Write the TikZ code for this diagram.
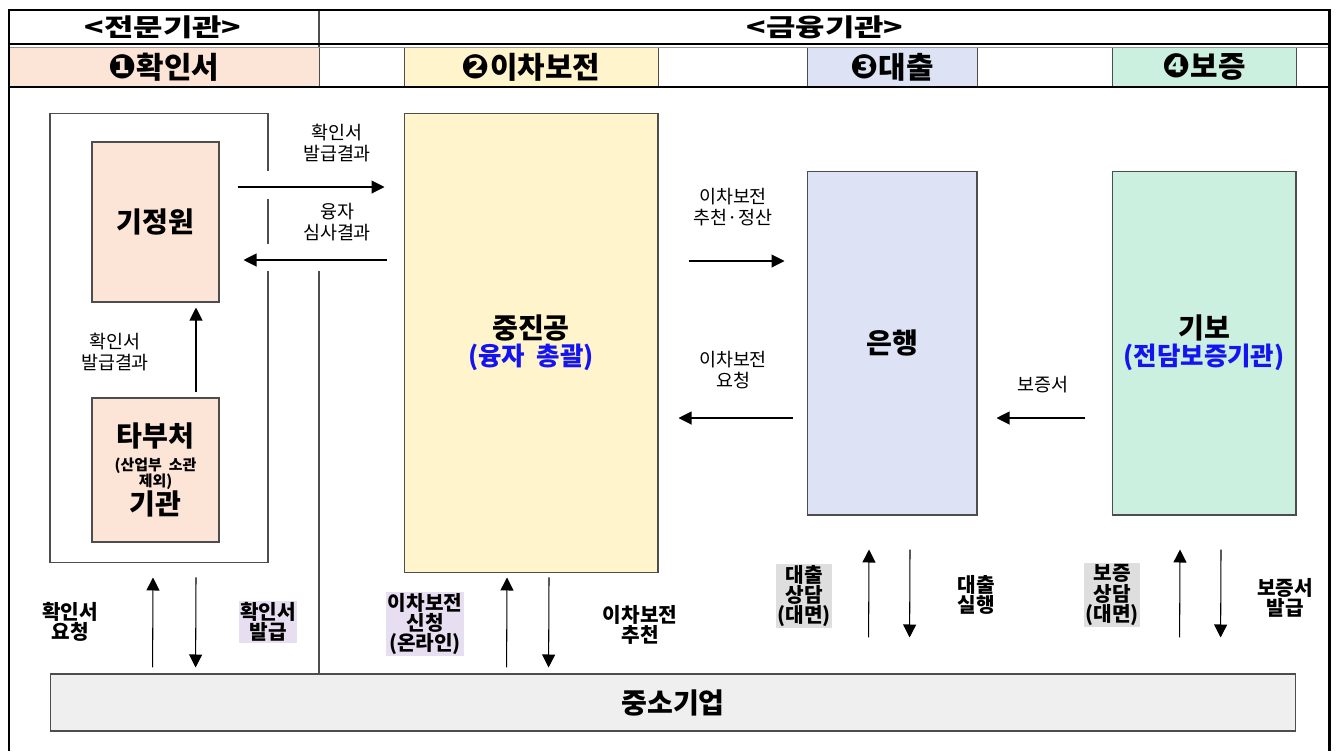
\documentclass[tikz,border=0pt]{standalone}
\usepackage{fontspec}
\setmainfont{Noto Sans CJK KR}
\newfontfamily\headfont{Noto Sans CJK KR}[FakeStretch=1.3]
\newfontfamily\dingfont{DejaVu Sans}
\usetikzlibrary{calc,arrows.meta}
\definecolor{peach}{HTML}{FCE4D6}
\definecolor{cream}{HTML}{FFF4CB}
\definecolor{paleblue}{HTML}{DDE3F5}
\definecolor{palegreen}{HTML}{CCF0E0}
\definecolor{smegray}{HTML}{EFEFEF}
\definecolor{lilac}{HTML}{E8DEF2}
\definecolor{hlgray}{HTML}{DEDEDE}
\definecolor{edge}{HTML}{4D4D4D}
\definecolor{subblue}{HTML}{1414F0}
\newcommand{\numtag}[1]{{\dingfont\bfseries\fontsize{19}{19}\selectfont #1}}

\begin{document}
\begin{tikzpicture}[x=0.02cm, y=-0.02cm,
		box/.style={draw=edge, line width=0.6pt, inner sep=0pt, align=center, font=\fontsize{16}{19}\selectfont\bfseries},
		cell/.style={draw=edge, line width=0.5pt, inner sep=0pt, minimum height=0.8cm, font=\fontsize{17}{20}\selectfont\bfseries},
		arr/.style={-{Triangle[length=0.26cm,width=0.26cm]}, line width=0.6pt},
		note/.style={align=center, inner sep=0.5pt, font=\fontsize{10.5}{11.5}\selectfont},
		tag/.style={align=center, inner sep=0.8pt, font=\fontsize{11.5}{11.5}\selectfont\bfseries}]
			%%%%% START %%%%%
			\useasboundingbox (0,0) rectangle (1337,751);
			
			% header cells
			\node[cell, fill=peach, minimum width=6.2cm] (hdconf) at (164,67) {\numtag{❶}확인서};
			\node[cell, fill=cream, minimum width=5.08cm] (hdsub) at (531,67) {\numtag{❷}이차보전};
			\node[cell, fill=paleblue, minimum width=3.4cm] (hdloan) at (892,67) {\numtag{❸}대출};
			\node[cell, fill=palegreen, minimum width=3.68cm] (hdguar) at (1204,67) {\numtag{❹}보증};
			\draw[edge, line width=0.5pt] (1296,47) -- (1296,87);
			
			\node[font=\headfont\fontsize{14}{16}\selectfont\bfseries] (hdexpert) at (163,27) {<전문기관>};
			\node[font=\headfont\fontsize{14}{16}\selectfont\bfseries] (hdfin) at (825,27) {<금융기관>};
			
			\draw[edge, line width=0.7pt] (319,10) -- (319,47);
			\draw[line width=1pt] (9,44) -- (1329,44);
			\draw[edge!60, line width=0.5pt] (9,47) -- (1329,47);
			\draw[line width=0.8pt] (9,87) -- (1329,87);
			\draw[line width=1.7pt] (9,751) -- (9,10) -- (1329,10) -- (1329,751);
			
			% boxes
			\node[box, minimum width=4.36cm, minimum height=9cm] (jeonmun) at (159,338) {};
			\fill[white] (264,171) rectangle (273,199);
			\fill[white] (264,244) rectangle (273,271);
			\draw[edge, line width=0.6pt] (319,271) -- (319,674);
			
			\node[box, fill=peach, minimum width=2.54cm, minimum height=3.2cm] (kijeong) at (155.5,222) {기정원};
			\node[box, fill=peach, minimum width=2.54cm, minimum height=2.88cm] (tabu) at (155.5,470)
				{타부처\\[-5pt]{\fontsize{8.5}{9}\selectfont (산업부~~소관}\\[-10pt]{\fontsize{8.5}{9}\selectfont 제외)}\\[-3pt]기관};
			\node[box, fill=cream, minimum width=5.08cm, minimum height=9.2cm] (jjg) at (531,343)
				{중진공\\[-3.7pt]{\color{subblue}\fontsize{14.5}{16}\selectfont (융자~~총괄)}};
			\node[box, fill=paleblue, minimum width=3.4cm, minimum height=6.88cm] (bank) at (892,343) {은행};
			\node[box, fill=palegreen, minimum width=3.68cm, minimum height=6.88cm] (kibo) at (1204,343)
				{기보\\[-3.7pt]{\color{subblue}\fontsize{14.5}{16}\selectfont (전담보증기관)}};
			\node[box, fill=smegray, minimum width=24.92cm, minimum height=1.14cm] (sme) at (673,702.5) {중소기업};
			
			% arrows
			\draw[arr] ($(tabu.north)+(40.5,-5)$) -- ($(kijeong.south)+(40.5,5)$);
			\draw[arr] ($(kijeong.east)+(18,-35)$) -- ($(jjg.west)+(-19,-156)$);
			\draw[arr] ($(jjg.west)+(-17,-83)$) -- ($(kijeong.east)+(24,38)$);
			\draw[arr] ($(jjg.east)+(30,-82)$) -- ($(bank.west)+(-22,-82)$);
			\draw[arr] ($(bank.west)+(-14,75)$) -- ($(jjg.east)+(20,75)$);
			\draw[arr] ($(kibo.west)+(-27,75)$) -- ($(bank.east)+(19,75)$);
			
			\draw[arr] ($(sme.north west)+(103,-6)$) -- ($(jeonmun.south)+(-6,14)$);
			\draw[arr] ($(jeonmun.south)+(37,14)$) -- ($(sme.north west)+(146,-6)$);
			\draw[arr] ($(sme.north west)+(457,-6)$) -- ($(jjg.south)+(-24,4)$);
			\draw[arr] ($(jjg.south)+(18,4)$) -- ($(sme.north west)+(499,-6)$);
			\draw[arr] ($(sme.north west)+(819,-36)$) -- ($(bank.south)+(-23,34)$);
			\draw[arr] ($(bank.south)+(18,34)$) -- ($(sme.north west)+(860,-36)$);
			\draw[arr] ($(sme.north west)+(1130,-36)$) -- ($(kibo.south)+(-24,34)$);
			\draw[arr] ($(kibo.south)+(17,34)$) -- ($(sme.north west)+(1171,-36)$);
			
			% labels
			\node[note] (nissue) at (115,352) {확인서\\발급결과};
			\node[note] (nresult) at (337,143) {확인서\\발급결과};
			\node[note] (nreview) at (337,222) {융자\\심사결과};
			\node[note] (nsettle) at (733,207) {이차보전\\추천·정산};
			\node[note] (nrequest) at (733,370) {이차보전\\요청};
			\node[note] (ncert) at (1043,385) {보증서};
			
			\node[tag] (tconfreq) at (70,622) {확인서\\요청};
			\node[tag, fill=lilac] (tconfiss) at (268,622) {확인서\\발급};
			\node[tag, fill=lilac] (tapply) at (425,624) {이차보전\\신청\\(온라인)};
			\node[tag] (trecom) at (640,625) {이차보전\\추천};
			\node[tag, fill=hlgray] (tloanconsult) at (804,596) {대출\\상담\\(대면)};
			\node[tag] (tloanexec) at (976,595) {대출\\실행};
			\node[tag, fill=hlgray] (tguarconsult) at (1112,595) {보증\\상담\\(대면)};
			\node[tag] (tguariss) at (1285,598) {보증서\\발급};
			
			%%%%% END %%%%%
		\end{tikzpicture}
\end{document}
